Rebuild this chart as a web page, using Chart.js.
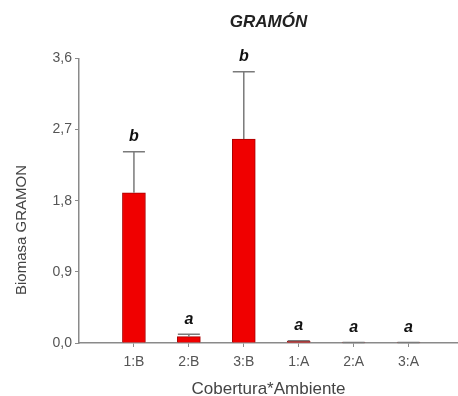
<!DOCTYPE html>
<html>
<head>
<meta charset="utf-8">
<script src="https://cdn.jsdelivr.net/npm/chart.js@4.4.1/dist/chart.umd.min.js"></script>
<style>
    html, body { margin: 0; padding: 0; background: #fff; }
    #grafico { display: block; }
</style>
</head>
<body>
<canvas id="grafico" width="458" height="396"></canvas>
<script>
// datos
const categorias = ["1:B", "2:B", "3:B", "1:A", "2:A", "3:A"];
const medias = [1.90, 0.08, 2.58, 0.02, 0.003, 0.003];
const errores = [0.52, 0.03, 0.85, 0.01, 0.002, 0.002];
const letras = ["b", "a", "b", "a", "a", "a"];
const ticksY = [0, 0.9, 1.8, 2.7, 3.6];

const fuente = "'Liberation Sans', Arial, sans-serif";
const gris = "#8a8a8a";

// barras de error + letras de significancia
const pluginErrores = {
    id: "errores",
    afterDatasetsDraw(chart) {
        const ctx = chart.ctx;
        const x = chart.scales.x;
        const y = chart.scales.y;
        ctx.save();
        medias.forEach(function (m, i) {
            const px = x.getPixelForValue(i + 1);
            const yBase = y.getPixelForValue(m);
            const yTop = y.getPixelForValue(m + errores[i]);
            ctx.strokeStyle = "#7a7a7a";
            ctx.lineWidth = 1.5;
            ctx.beginPath();
            ctx.moveTo(px, yBase);
            ctx.lineTo(px, yTop);
            ctx.moveTo(px - 11, yTop);
            ctx.lineTo(px + 11, yTop);
            ctx.stroke();

            ctx.fillStyle = "#111";
            ctx.font = "italic bold 16px " + fuente;
            ctx.textAlign = "center";
            ctx.textBaseline = "middle";
            ctx.fillText(letras[i], px, yTop - 15);
        });
        // titulo eje Y
        ctx.translate(22, 230);
        ctx.rotate(-Math.PI / 2);
        ctx.fillStyle = "#444";
        ctx.font = "15px " + fuente;
        ctx.textAlign = "center";
        ctx.textBaseline = "middle";
        ctx.fillText("Biomasa GRAMON", 0, 0);
        ctx.restore();
    }
};

const datos = medias.map(function (m, i) {
    return { x: i + 1, y: m };
});

new Chart(document.getElementById("grafico"), {
    type: "bar",
    plugins: [pluginErrores],
    data: {
        datasets: [{
            data: datos,
            backgroundColor: "#f00000",
            borderColor: "#a80000",
            borderWidth: 1,
            barThickness: 23
        }]
    },
    options: {
        responsive: false,
        animation: false,
        layout: { padding: 0 },
        plugins: {
            legend: { display: false },
            tooltip: { enabled: false },
            title: {
                display: true,
                fullSize: false,
                text: "GRAMÓN",
                color: "#222",
                font: { family: fuente, size: 17, style: "italic", weight: "bold" },
                padding: { top: 12, bottom: 26 }
            }
        },
        scales: {
            x: {
                type: "linear",
                min: 0,
                max: 6.9,
                offset: false,
                afterFit: function (scale) { scale.height = 53; },
                grid: {
                    drawOnChartArea: false,
                    offset: false,
                    tickLength: 4,
                    color: gris,
                    tickColor: function (c) {
                        return c.tick && c.tick.value === 0 ? "rgba(0,0,0,0)" : gris;
                    }
                },
                border: { display: true, color: gris, width: 1.5 },
                ticks: {
                    stepSize: 1,
                    includeBounds: false,
                    autoSkip: false,
                    maxRotation: 0,
                    padding: 7,
                    color: "#555",
                    font: { family: fuente, size: 14 },
                    callback: function (v) { return categorias[v - 1] || ""; }
                },
                title: {
                    display: true,
                    text: "Cobertura*Ambiente",
                    color: "#444",
                    font: { family: fuente, size: 17 },
                    padding: { top: 0, bottom: -4 }
                }
            },
            y: {
                min: 0,
                max: 3.6,
                afterFit: function (scale) { scale.width = 79; },
                afterBuildTicks: function (scale) {
                    scale.ticks = ticksY.map(function (v) { return { value: v }; });
                },
                grid: {
                    drawOnChartArea: false,
                    tickLength: 4,
                    color: gris
                },
                border: { display: true, color: gris, width: 1.5 },
                ticks: {
                    padding: 3,
                    color: "#555",
                    font: { family: fuente, size: 14 },
                    callback: function (v) { return v.toFixed(1).replace(".", ","); }
                }
            }
        }
    }
});
</script>
</body>
</html>
